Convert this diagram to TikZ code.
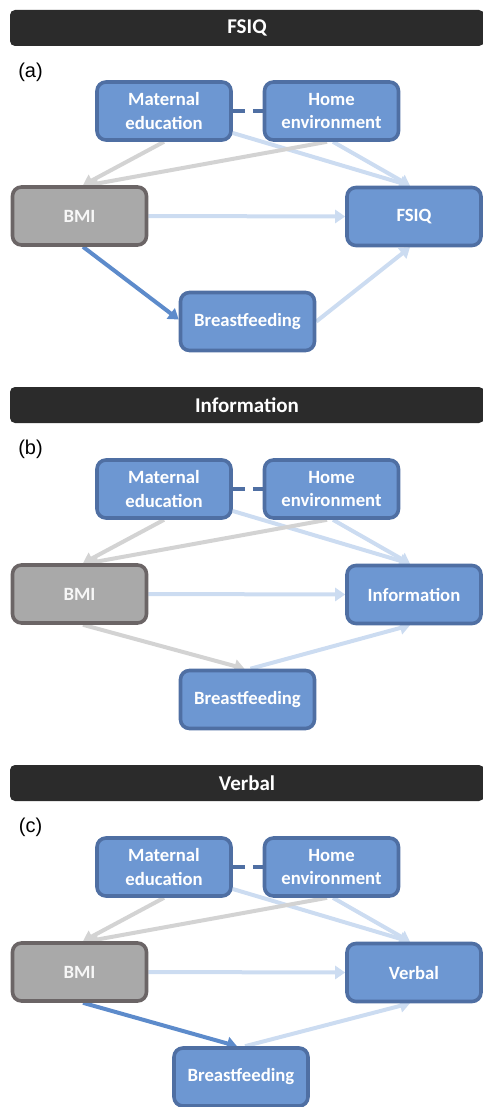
\documentclass[tikz,border=0pt]{standalone}
\usepackage{fontspec}
\setmainfont{Carlito}
\newfontfamily\labfont{Liberation Sans}
\usetikzlibrary{arrows.meta,calc}
\pgfdeclarelayer{bg}
\pgfsetlayers{bg,main}
\definecolor{bfill}{HTML}{6D97D2}
\definecolor{bdr}{HTML}{4F6FA3}
\definecolor{gfill}{HTML}{A9A9A9}
\definecolor{gdr}{HTML}{6B6566}
\definecolor{garr}{HTML}{D3D3D3}
\definecolor{larr}{HTML}{CCDCF1}
\definecolor{sarr}{HTML}{5D8BCB}
\definecolor{tbar}{HTML}{2B2B2B}
\tikzset{
  bbox/.style={draw=bdr, fill=bfill, line width=3.6pt, rounded corners=9pt,
    minimum width=134pt, minimum height=58pt, text=white, align=center,
    font=\bfseries\fontsize{18.7}{23.5}\selectfont, inner sep=0pt},
  gbox/.style={bbox, draw=gdr, fill=gfill, text=white!94!gray},
  titlebar/.style={fill=tbar, rounded corners=5pt, minimum width=474pt,
    minimum height=36pt, text=white, font=\bfseries\fontsize{21}{26}\selectfont, inner sep=0pt},
  plabel/.style={font=\labfont\fontsize{20}{24}\selectfont, inner sep=0pt},
  conn/.style={line width=4pt, -{Triangle[width=13pt,length=10pt]}},
  garrow/.style={conn, draw=garr},
  larrow/.style={conn, draw=larr},
  sarrow/.style={conn, draw=sarr},
  dashlink/.style={draw=bdr, line width=4pt, dash pattern=on 12pt off 8pt}
}
\begin{document}
\begin{tikzpicture}[x=1pt,y=-1pt]
\useasboundingbox (0,0) rectangle (482,1107);
% ---------- panel (a)
\begin{scope}[shift={(0,0)}]
\node[titlebar] (ta) at (247,28) {FSIQ};
\node[plabel] (la) at (30.5,72) {(a)};
\node[bbox] (mea) at (164,111) {Maternal\\education};
\node[bbox] (hea) at (331.5,111) {Home\\environment};
\node[gbox] (bmia) at (79.5,216) {BMI};
\node[bbox] (outa) at (414,216.5) {FSIQ};
\node[bbox] (bfa) at (247.5,321.5) {Breastfeeding};
\begin{pgfonlayer}{bg}
\draw[larrow] ([yshift=-22pt]mea.east) -- ([xshift=-4pt]outa.north);
\draw[larrow] ([xshift=1.5pt]hea.south) -- ([xshift=-4pt]outa.north);
\draw[garrow] (mea.south) -- ([xshift=3.5pt]bmia.north);
\draw[garrow] ([xshift=-4.5pt]hea.south) -- ([xshift=8.5pt]bmia.north);
\draw[larrow] (bmia.east) -- (outa.west);
\draw[sarrow] ([xshift=3.5pt]bmia.south) -- ([yshift=2pt]bfa.west);
\draw[larrow] (bfa.east) -- ([xshift=-4pt]outa.south);
\end{pgfonlayer}
\draw[dashlink] (mea.east) -- (hea.west);
\end{scope}
% ---------- panel (b)
\begin{scope}[shift={(0,378)}]
\node[titlebar] (tb) at (247,27) {Information};
\node[plabel] (lb) at (30.5,71) {(b)};
\node[bbox] (meb) at (164,111) {Maternal\\education};
\node[bbox] (heb) at (331.5,111) {Home\\environment};
\node[gbox] (bmib) at (79.5,216) {BMI};
\node[bbox] (outb) at (414,216.5) {Information};
\node[bbox] (bfb) at (247.5,321.5) {Breastfeeding};
\begin{pgfonlayer}{bg}
\draw[larrow] ([yshift=-22pt]meb.east) -- ([xshift=-4pt]outb.north);
\draw[larrow] ([xshift=1.5pt]heb.south) -- ([xshift=-4pt]outb.north);
\draw[garrow] (meb.south) -- ([xshift=3.5pt]bmib.north);
\draw[garrow] ([xshift=-4.5pt]heb.south) -- ([xshift=8.5pt]bmib.north);
\draw[larrow] (bmib.east) -- (outb.west);
\draw[garrow] ([xshift=3.5pt]bmib.south) -- ([xshift=-3pt]bfb.north);
\draw[larrow] ([xshift=3pt]bfb.north) -- ([xshift=-4pt]outb.south);
\end{pgfonlayer}
\draw[dashlink] (meb.east) -- (heb.west);
\end{scope}
% ---------- panel (c)
\begin{scope}[shift={(0,756)}]
\node[titlebar] (tc) at (247,27) {Verbal};
\node[plabel] (lc) at (30.5,71) {(c)};
\node[bbox] (mec) at (164,111) {Maternal\\education};
\node[bbox] (hec) at (331.5,111) {Home\\environment};
\node[gbox] (bmic) at (79.5,216) {BMI};
\node[bbox] (outc) at (414,216.5) {Verbal};
\node[bbox] (bfc) at (241,321) {Breastfeeding};
\begin{pgfonlayer}{bg}
\draw[larrow] ([yshift=-22pt]mec.east) -- ([xshift=-4pt]outc.north);
\draw[larrow] ([xshift=1.5pt]hec.south) -- ([xshift=-4pt]outc.north);
\draw[garrow] (mec.south) -- ([xshift=3.5pt]bmic.north);
\draw[garrow] ([xshift=-4.5pt]hec.south) -- ([xshift=8.5pt]bmic.north);
\draw[larrow] (bmic.east) -- (outc.west);
\draw[sarrow] ([xshift=3.5pt]bmic.south) -- ([xshift=-4pt]bfc.north);
\draw[larrow] ([xshift=4pt]bfc.north) -- ([xshift=-4pt]outc.south);
\end{pgfonlayer}
\draw[dashlink] (mec.east) -- (hec.west);
\end{scope}
\end{tikzpicture}
\end{document}
